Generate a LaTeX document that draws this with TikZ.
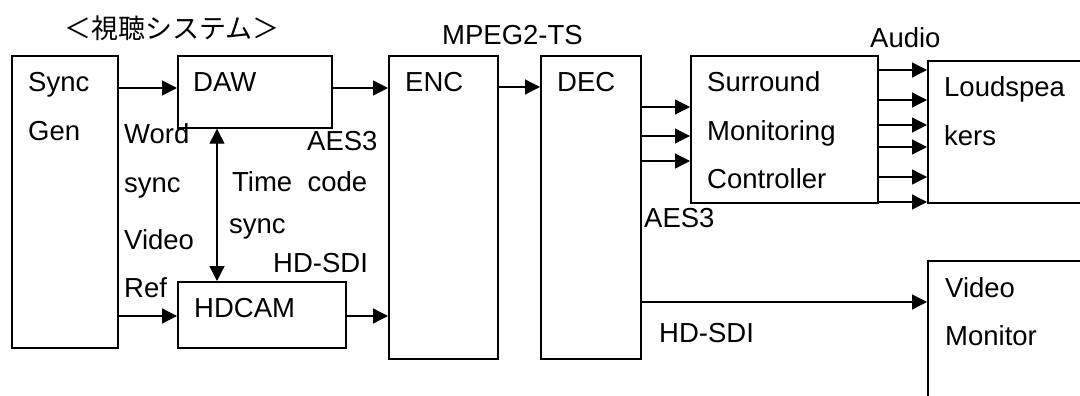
\documentclass[tikz,border=0pt]{standalone}
\usepackage{fontspec}
\setmainfont{Liberation Sans}
\newfontfamily\jpfont{Noto Sans CJK JP}
\usetikzlibrary{arrows.meta}

\begin{document}
\begin{tikzpicture}[x=1pt,y=-1pt]
	\clip (0,0) rectangle (1080,396);
	\tikzset{txt/.style={anchor=base west,inner sep=0pt,font=\fontsize{27.5}{33}\selectfont}}

	\node[font=\jpfont\fontsize{27}{32}\selectfont] (title) at (172,28) {＜視聴システム＞};

	\begin{scope}[every node/.style={draw,line width=1.7pt,anchor=north west,inner sep=0pt}]
		\node[minimum width=106pt,minimum height=292pt] (sync) at (11,55) {};
		\node[minimum width=154pt,minimum height=72pt] (daw) at (177,55) {};
		\node[minimum width=168pt,minimum height=66pt] (hdcam) at (177,281) {};
		\node[minimum width=109pt,minimum height=303pt] (enc) at (388,55) {};
		\node[minimum width=100pt,minimum height=303pt] (dec) at (540,55) {};
		\node[minimum width=187pt,minimum height=147pt] (sur) at (690,55) {};
		\node[minimum width=180pt,minimum height=142pt] (spk) at (927,60) {};
		\node[minimum width=180pt,minimum height=180pt] (mon) at (927,260) {};
	\end{scope}

	\begin{scope}[every node/.style=txt]
		% text in the boxes
		\node (syncA) at (28,92) {Sync};
		\node (syncB) at (28,140) {Gen};
		\node (dawA) at (193,92) {DAW};
		\node (hdcamA) at (194,317) {HDCAM};
		\node (encA) at (405,92) {ENC};
		\node (decA) at (557,92) {DEC};
		\node (surA) at (707,92) {Surround};
		\node (surB) at (707,140) {Monitoring};
		\node (surC) at (707,188) {Controller};
		\node (spkA) at (944,97) {Loudspea};
		\node (spkB) at (944,145) {kers};
		\node (monA) at (945,297) {Video};
		\node (monB) at (945,345) {Monitor};
		% signal names
		\node (word) at (124,143) {Word};
		\node (wsync) at (124,192) {sync};
		\node (video) at (124,249) {Video};
		\node (ref) at (124,297) {Ref};
		\node (aesA) at (307,150) {AES3};
		\node (time) at (232,191) {Time\ \ code};
		\node (tsync) at (229,233) {sync};
		\node (sdiA) at (273,272) {HD-SDI};
		\node (mpeg) at (442,45) {MPEG2-TS};
		\node (aesB) at (644,227) {AES3};
		\node (sdiB) at (659,342) {HD-SDI};
		\node (audio) at (870,48) {Audio};
	\end{scope}

	\begin{scope}[>={Triangle[length=15pt,width=15pt]},
	              every edge/.style={draw,line width=1.3pt,->}]
		\path (sync.east |- 0,88) edge (daw.west |- 0,88);
		\path (sync.east |- 0,316) edge (hdcam.west |- 0,316);
		\path (daw.east |- 0,88) edge (enc.west |- 0,88);
		\path (hdcam.east |- 0,316) edge (enc.west |- 0,316);
		\path (daw.south -| 217,0) edge[<->] (hdcam.north -| 217,0);
		\path (enc.east |- 0,87) edge (dec.west |- 0,87);
		\foreach \y in {107,136,161}
			\path (dec.east |- 0,\y) edge (sur.west |- 0,\y);
		\foreach \y in {70,100,125,147,177,202}
			\path (sur.east |- 0,\y) edge (spk.west |- 0,\y);
		\path (dec.east |- 0,302) edge (mon.west |- 0,302);
	\end{scope}
\end{tikzpicture}
\end{document}
